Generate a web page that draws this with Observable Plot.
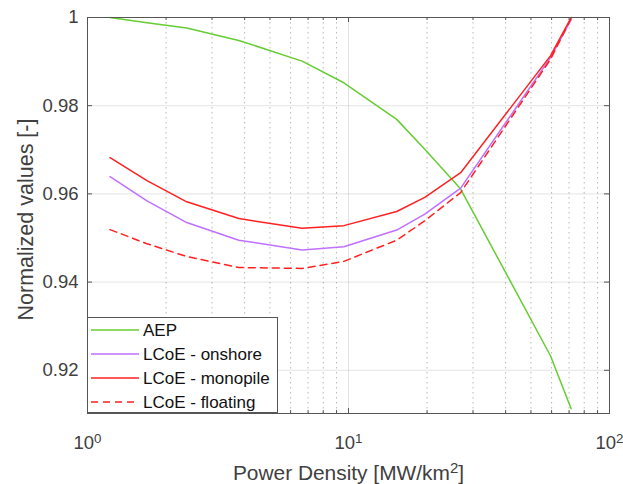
<!DOCTYPE html>
<html><head><meta charset="utf-8">
<script src="https://cdn.jsdelivr.net/npm/d3@7"></script>
<script src="https://cdn.jsdelivr.net/npm/@observablehq/plot@0.6"></script>
<style>body{margin:0;background:#fff} svg{display:block}</style>
</head><body><div id="chart"></div>
<script>
const density = [1.22, 1.69, 2.4, 3.8, 6.64, 9.6, 15.3, 19.6, 26.9, 59.4, 71.3];
const aep = [1.0, 0.9988, 0.9976, 0.9948, 0.9901, 0.9852, 0.9769, 0.9701, 0.9611, 0.9233, 0.9113];
const lcoeOnshore = [0.9639, 0.9584, 0.9535, 0.9495, 0.9473, 0.9480, 0.9518, 0.9554, 0.9613, 0.9909, 0.9995];
const lcoeMonopile = [0.9682, 0.9630, 0.9582, 0.9544, 0.9522, 0.9528, 0.9560, 0.9592, 0.9648, 0.9913, 1.0];
const lcoeFloating = [0.9519, 0.9487, 0.9458, 0.9433, 0.9431, 0.9447, 0.9495, 0.9539, 0.9603, 0.9905, 0.9998];
const seriesNames = ["AEP", "LCoE - onshore", "LCoE - monopile", "LCoE - floating"];
const seriesColors = ["#66cc33", "#bf70ff", "#ff2020", "#ff2020"];
const seriesDash = [null, null, null, "7,5"];
const yTicks = [0.92, 0.94, 0.96, 0.98, 1];
const xMajor = [1, 10, 100];
const xMinor = [2, 3, 4, 5, 6, 7, 8, 9, 20, 30, 40, 50, 60, 70, 80, 90];
const xLabel = "Power Density [MW/km";
const yLabel = "Normalized values [-]";

const values = [aep, lcoeOnshore, lcoeMonopile, lcoeFloating];
const W = 623, H = 484, mL = 87, mR = 14, mT = 17, mB = 71;
const innerH = H - mT - mB, innerW = W - mL - mR;
const FONT = "'Liberation Sans', Arial, Helvetica, sans-serif";
const AX = "#555";

const lineMarks = values.map((vals, i) => Plot.line(
  density.map((x, j) => ({x, y: vals[j]})),
  {x: "x", y: "y", stroke: seriesColors[i], strokeWidth: 1.5, strokeDasharray: seriesDash[i]}
));

const plot = Plot.plot({
  width: W, height: H,
  marginLeft: mL, marginRight: mR, marginTop: mT, marginBottom: mB,
  style: {fontFamily: FONT, background: "#fff"},
  x: {type: "log", domain: [1, 100]},
  y: {domain: [0.9102, 1]},
  marks: [
    Plot.gridY(yTicks, {stroke: "#000", strokeOpacity: 0.11, strokeWidth: 1}),
    Plot.gridX(xMinor, {stroke: "#000", strokeOpacity: 0.28, strokeDasharray: "1.5,3.5", strokeWidth: 1}),
    Plot.gridX([10], {stroke: "#000", strokeOpacity: 0.11, strokeWidth: 1}),
    ...lineMarks,
    Plot.frame({stroke: AX, strokeWidth: 1}),
    // inward ticks
    Plot.ruleX(xMajor, {stroke: AX, insetTop: innerH - 5}),
    Plot.ruleX(xMajor, {stroke: AX, insetBottom: innerH - 5}),
    Plot.ruleX(xMinor, {stroke: AX, insetTop: innerH - 3}),
    Plot.ruleX(xMinor, {stroke: AX, insetBottom: innerH - 3}),
    Plot.ruleY(yTicks, {stroke: AX, insetRight: innerW - 5}),
    Plot.ruleY(yTicks, {stroke: AX, insetLeft: innerW - 5}),
    Plot.axisY(yTicks, {anchor: "left", tickSize: 0, tickPadding: 9, fontSize: 18.5, fill: "#404040",
      tickFormat: d => d === 1 ? "1" : d.toFixed(2), label: null}),
    Plot.axisX(xMajor, {anchor: "bottom", tickSize: 0, tickPadding: 22, fontSize: 18.5, fill: "#404040",
      tickFormat: d => "10^" + Math.round(Math.log10(d)), label: null})
  ]
});

const svg = d3.select(plot);
// superscripts on x tick labels
svg.selectAll('[aria-label="x-axis tick label"] text').each(function() {
  const t = this.textContent.split("^");
  const el = d3.select(this);
  el.text(null);
  el.append("tspan").text(t[0]);
  el.append("tspan").attr("dy", "-0.45em").attr("font-size", "0.72em").text(t[1]);
});

// axis labels
const xl = svg.append("text")
  .attr("x", 348.5).attr("y", 480)
  .attr("text-anchor", "middle").attr("font-size", 20.9).attr("fill", "#404040")
  .attr("font-family", FONT);
xl.append("tspan").text(xLabel);
xl.append("tspan").attr("dy", "-0.45em").attr("font-size", "0.72em").text("2");
xl.append("tspan").attr("dy", "0.324em").text("]");

svg.append("text")
  .attr("transform", `translate(33,219.5) rotate(-90)`)
  .attr("text-anchor", "middle").attr("font-size", 21.5).attr("fill", "#404040")
  .attr("font-family", FONT)
  .text(yLabel);

// legend
const lg = svg.append("g").attr("font-family", FONT).attr("text-anchor", "start");
lg.append("rect").attr("x", 87.5).attr("y", 317.5).attr("width", 190).attr("height", 95)
  .attr("fill", "#fff").attr("stroke", AX);
seriesNames.forEach((name, i) => {
  const y = 330 + i * 24;
  lg.append("line").attr("x1", 91).attr("x2", 139).attr("y1", y).attr("y2", y)
    .attr("stroke", seriesColors[i]).attr("stroke-width", 1.5)
    .attr("stroke-dasharray", seriesDash[i]);
  lg.append("text").attr("x", 143).attr("y", y).attr("dy", "0.36em")
    .attr("text-anchor", "start")
    .attr("font-size", 17).attr("fill", "#111").text(name);
});

document.getElementById("chart").appendChild(plot);
</script>
</body></html>
